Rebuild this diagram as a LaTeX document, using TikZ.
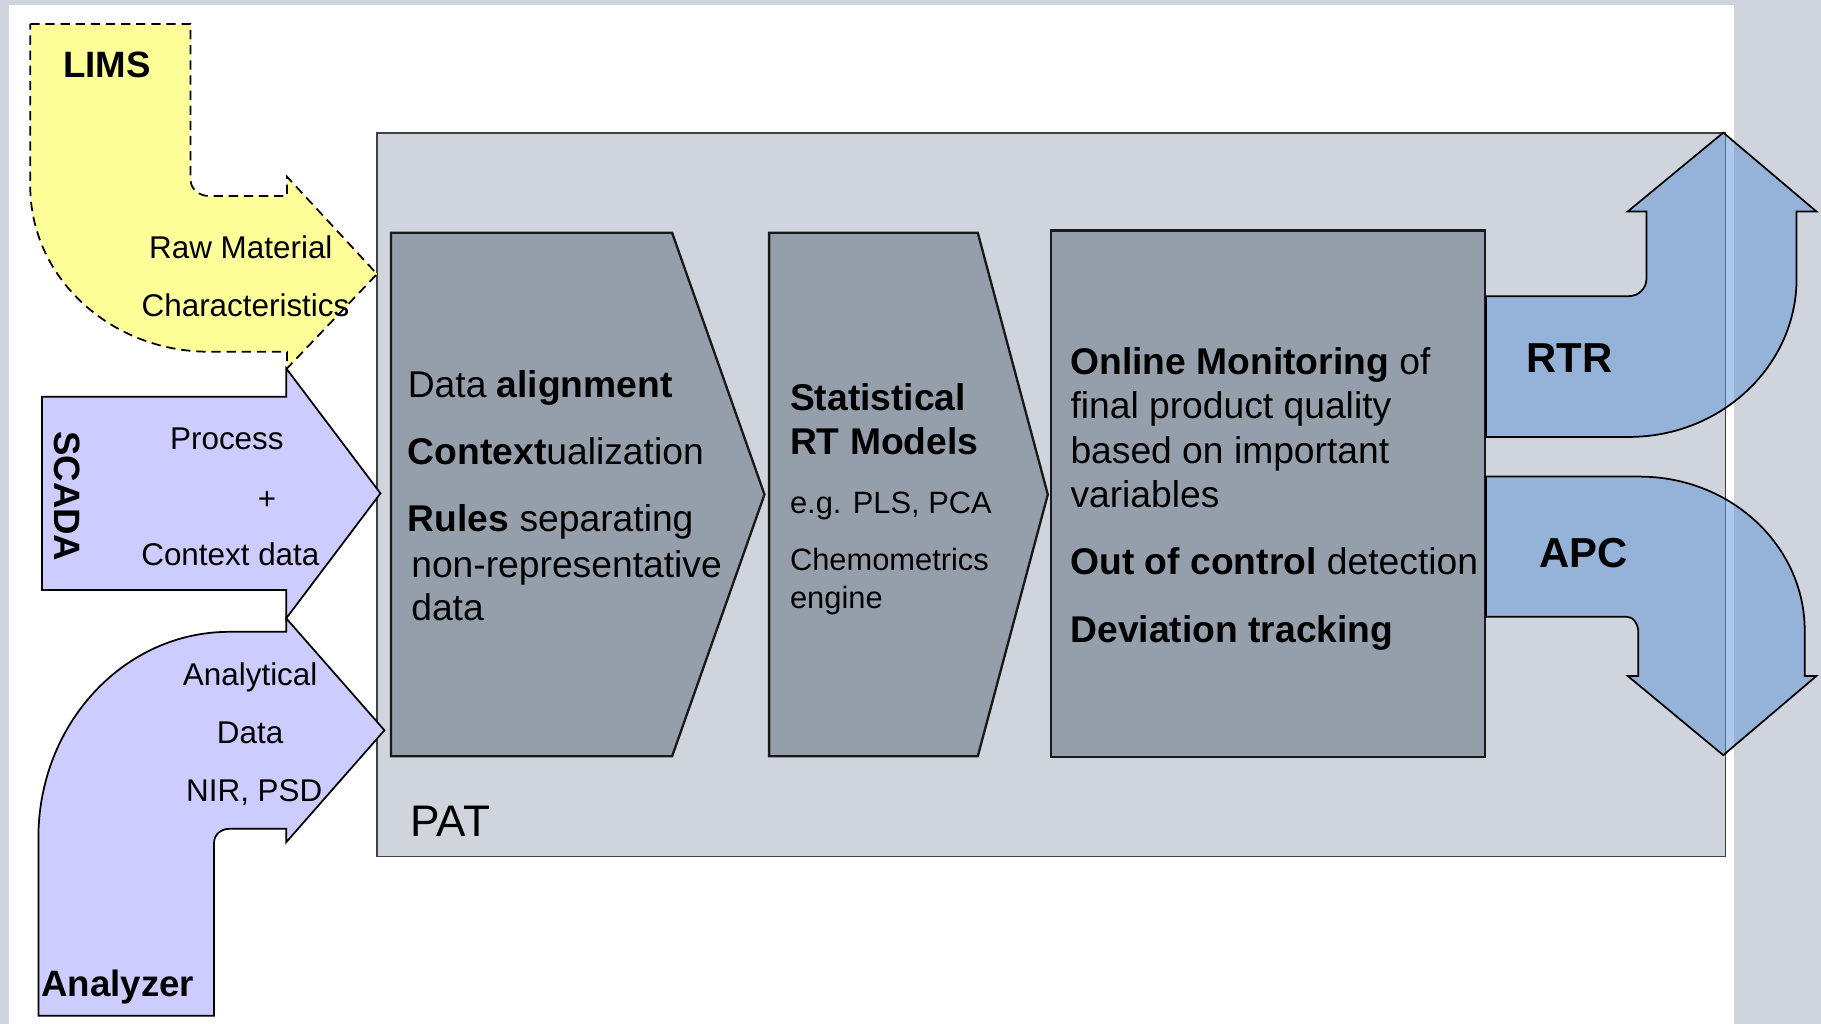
\documentclass[tikz,border=0pt]{standalone}
\usepackage{fontspec}
\setmainfont{Liberation Sans}
\definecolor{stripgrey}{RGB}{208,212,220}
\definecolor{patgrey}{RGB}{208,212,220}
\definecolor{boxgrey}{RGB}{149,159,171}
\definecolor{limsyellow}{RGB}{255,255,153}
\definecolor{lavender}{RGB}{204,204,255}
\definecolor{outblue}{RGB}{92,146,214}
\begin{document}
\begin{tikzpicture}[x=1pt,y=-1pt,
  every node/.style={inner sep=0pt, outer sep=0pt, text=black},
  lsmall/.style={font=\fontsize{27}{32}\selectfont},
  lmain/.style={font=\fontsize{32}{38}\selectfont},
  lnote/.style={font=\fontsize{26.5}{32}\selectfont},
  ltitle/.style={font=\fontsize{31.5}{38}\selectfont\bfseries},
  lout/.style={font=\fontsize{36}{43}\selectfont\bfseries},
  lpat/.style={font=\fontsize{38}{46}\selectfont},
  inarrow/.style={draw=black, line width=1.5pt, line join=miter},
  limsarrow/.style={inarrow, fill=limsyellow, dash pattern=on 8pt off 5pt},
  srcarrow/.style={inarrow, fill=lavender},
  stage/.style={draw=black!90, line width=2pt, fill=boxgrey, line join=miter},
  outarrow/.style={draw=black, line width=1.5pt, fill=outblue, fill opacity=0.5, line join=miter},
  patbox/.style={draw=black!75, line width=1.5pt, fill=patgrey}
]
\useasboundingbox (0,0) rectangle (1565,880);
% background
\fill[white] (0,0) rectangle (1565,880);
\fill[stripgrey] (0,0) rectangle (1565,4);
\fill[stripgrey] (0,0) rectangle (7.5,880);
\fill[stripgrey] (1490,0) rectangle (1565,880);

% PAT container
\path[patbox] (324,114.5) rectangle (1483,736);
\node[lpat, anchor=base west] (pat) at (353,719) {PAT};

% LIMS bent arrow (dashed)
\path[limsarrow] (26,20.6) -- (163.8,20.6) -- (163.8,154.7)
  .. controls (163.8,162.3) and (171.05,168.5) .. (180,168.5)
  -- (246.7,168.5) -- (246.7,151.9) -- (324,235.5) -- (246.7,316.6)
  -- (246.7,302.3) -- (180,302.3)
  .. controls (94.95,302.3) and (26,238.6) .. (26,160) -- cycle;

% SCADA arrow
\path[srcarrow] (36.2,341) -- (246,341) -- (246,316.6) -- (327,424)
  -- (246,531.4) -- (246,507) -- (36.2,507) -- cycle;

% Analyzer bent arrow
\path[srcarrow] (33,873) -- (33,720)
  .. controls (33,622.2) and (106.4,543) .. (197,543)
  -- (246,543) -- (246,531.4) -- (330.4,627.6) -- (246,723.8)
  -- (246,712.3) -- (197,712.3)
  .. controls (189.8,712.3) and (184,717.5) .. (184,724)
  -- (184,873) -- cycle;

% stages
\path[stage] (336,200) -- (577.6,200) -- (657,425) -- (577.6,650) -- (336,650) -- cycle;
\path[stage] (661,200) -- (840.3,200) -- (900.5,425) -- (840.3,650) -- (661,650) -- cycle;
\path[stage] (903.5,198) rectangle (1276,650.5);

% RTR output arrow
\path[outarrow] (1277,254.5) -- (1400,254.5)
  .. controls (1408.3,254.5) and (1415,247.8) .. (1415,239.5)
  -- (1415,181.7) -- (1399,181.7) -- (1481,114) -- (1561,181.7)
  -- (1544,181.7) -- (1544,239.5)
  .. controls (1544,314.3) and (1479.3,375.5) .. (1400,375.5)
  -- (1277,375.5) -- cycle;

% APC output arrow
\path[outarrow] (1277,409.6) -- (1409,409.6)
  .. controls (1487.3,409.6) and (1551,468.9) .. (1551,542)
  -- (1551,581) -- (1561,581) -- (1481,649) -- (1399,581)
  -- (1408,581) -- (1408,543.7)
  .. controls (1408,536.1) and (1403.5,530) .. (1398,530)
  -- (1277,530) -- cycle;

% LIMS texts
\node[ltitle, anchor=base west] (lims) at (54.3,66.5) {LIMS};
\node[lsmall, anchor=base] (raw) at (207,222) {Raw Material};
\node[lsmall, anchor=base] (charac) at (211,272) {Characteristics};

% SCADA texts
\node[ltitle, rotate=-90, anchor=center] (scada) at (57.5,426.5) {SCADA};
\node[lsmall, anchor=base] (process) at (195,386) {Process};
\node[lsmall, anchor=center] (plus) at (229.6,430) {+};
\node[lsmall, anchor=base] (context) at (198,486) {Context data};

% Analyzer texts
\node[lsmall, anchor=base] (analytical) at (215,589.5) {Analytical};
\node[lsmall, anchor=base] (adata) at (215,639) {Data};
\node[lsmall, anchor=base] (nir) at (218.5,688.5) {NIR, PSD};
\node[ltitle, anchor=base west] (analyzer) at (35.5,856) {Analyzer};

% Stage 1 texts
\node[lmain, anchor=base west] (s1a) at (350.5,341.5) {Data \textbf{alignment}};
\node[lmain, anchor=base west] (s1b) at (350.5,399.5) {\textbf{Context}ualization};
\node[lmain, anchor=base west] (s1c) at (350.5,456.5) {\textbf{Rules} separating};
\node[lmain, anchor=base west] (s1d) at (353.5,496) {non-representative};
\node[lmain, anchor=base west] (s1e) at (353.5,533.5) {data};

% Stage 2 texts
\node[lmain, anchor=base west] (s2a) at (679,352.5) {\textbf{Statistical}};
\node[lmain, anchor=base west] (s2b) at (679,390.5) {\textbf{RT Models}};
\node[lnote, anchor=base west] (s2c) at (679,441) {e.g. PLS, PCA};
\node[lnote, anchor=base west] (s2d) at (679,490) {Chemometrics};
\node[lnote, anchor=base west] (s2e) at (679,523) {engine};

% Stage 3 texts
\node[lmain, anchor=base west] (s3a) at (920,321.5) {\textbf{Online Monitoring} of};
\node[lmain, anchor=base west] (s3b) at (920,359.5) {final product quality};
\node[lmain, anchor=base west] (s3c) at (920,398.5) {based on important};
\node[lmain, anchor=base west] (s3d) at (920,436.5) {variables};
\node[lmain, anchor=base west] (s3e) at (920,494) {\textbf{Out of control} detection};
\node[lmain, anchor=base west] (s3f) at (920,552) {\textbf{Deviation tracking}};

% output labels
\node[lout, anchor=base] (rtr) at (1349,320) {RTR};
\node[lout, anchor=base] (apc) at (1361,488) {APC};
\end{tikzpicture}
\end{document}
